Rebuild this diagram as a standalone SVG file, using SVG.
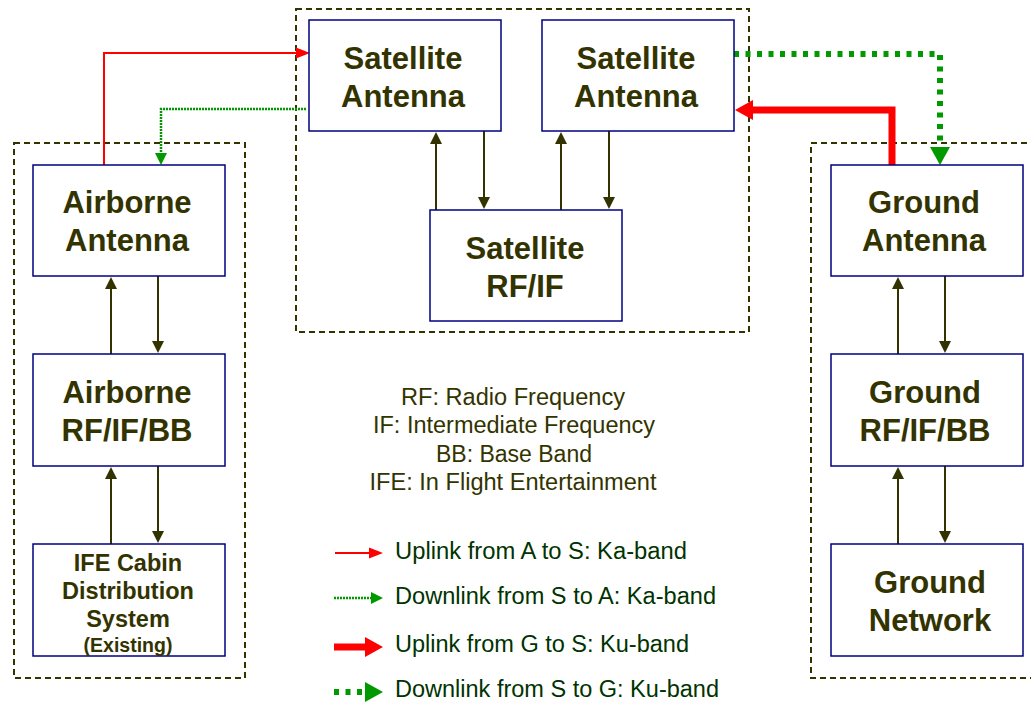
<svg xmlns="http://www.w3.org/2000/svg" width="1031" height="703" viewBox="0 0 1031 703">
<style>
.grp{fill:none;stroke:#333300;stroke-width:2;stroke-dasharray:6 4}
.box{fill:#fff;stroke:#000080;stroke-width:1.5}
.nt{font-family:"Liberation Sans",Arial,sans-serif;font-weight:bold;font-size:31px;fill:#333300;text-anchor:middle}
.st{font-family:"Liberation Sans",Arial,sans-serif;font-weight:bold;font-size:23.5px;fill:#333300;text-anchor:middle}
.xt{font-family:"Liberation Sans",Arial,sans-serif;font-weight:bold;font-size:19.5px;fill:#333300;text-anchor:middle}
.abbr{font-family:"Liberation Sans",Arial,sans-serif;font-size:23px;fill:#333300;text-anchor:middle}
.leg{font-family:"Liberation Sans",Arial,sans-serif;font-size:23px;fill:#003300}
.ol{fill:none;stroke:#333300;stroke-width:2;marker-end:url(#ah)}
.rt{fill:none;stroke:#ff0000;stroke-width:2;marker-end:url(#rThin)}
.gt{fill:none;stroke:#009900;stroke-width:2.5;stroke-dasharray:2 1;marker-end:url(#gThin)}
.rk{fill:none;stroke:#ff0000;stroke-width:7;marker-end:url(#rThick)}
.gk{fill:none;stroke:#009900;stroke-width:6;stroke-dasharray:5 6.5;marker-end:url(#gThick)}
</style>
<defs>
<marker id="ah" markerUnits="userSpaceOnUse" markerWidth="13" markerHeight="12" refX="1" refY="6" orient="auto" overflow="visible"><path d="M0,0 L12,6 L0,12 z" fill="#333300"/></marker>
<marker id="rThin" markerUnits="userSpaceOnUse" markerWidth="15" markerHeight="11" refX="1" refY="5.5" orient="auto" overflow="visible"><path d="M0,0 L14,5.5 L0,11 z" fill="#ff0000"/></marker>
<marker id="gThin" markerUnits="userSpaceOnUse" markerWidth="13" markerHeight="12" refX="1" refY="6" orient="auto" overflow="visible"><path d="M0,0 L12,6 L0,12 z" fill="#009900"/></marker>
<marker id="rThick" markerUnits="userSpaceOnUse" markerWidth="19" markerHeight="20" refX="1" refY="10" orient="auto" overflow="visible"><path d="M0,0 L18,10 L0,20 z" fill="#ff0000"/></marker>
<marker id="gThick" markerUnits="userSpaceOnUse" markerWidth="19" markerHeight="20" refX="1" refY="10" orient="auto" overflow="visible"><path d="M0,0 L18,10 L0,20 z" fill="#009900"/></marker>
</defs>
<rect width="1031" height="703" fill="#fff"/>

<g id="groups">
<rect class="grp" x="14" y="143" width="231" height="535"/>
<rect class="grp" x="296" y="9" width="453" height="323"/>
<rect class="grp" x="811" y="143" width="240" height="535"/>
</g>

<g id="connectors">
<path class="ol" d="M111,354 V288"/>
<path class="ol" d="M158,276 V342"/>
<path class="ol" d="M111,544 V478"/>
<path class="ol" d="M158,466 V532"/>
<path class="ol" d="M436,210 V143"/>
<path class="ol" d="M484,131 V198"/>
<path class="ol" d="M561,210 V143"/>
<path class="ol" d="M609,131 V198"/>
<path class="ol" d="M898,354 V288"/>
<path class="ol" d="M945,276 V342"/>
<path class="ol" d="M898,544 V478"/>
<path class="ol" d="M945,466 V532"/>
<path class="rt" d="M104,165 V53 H297"/>
<path class="gt" d="M306,109 H161 V154"/>
<path class="rk" d="M892,165 V110 H752"/>
<path class="gk" d="M734,54 H940 V148"/>
</g>

<g id="airborne-antenna">
<rect class="box" x="33" y="165" width="192" height="111"/>
<text class="nt" x="127" y="213">Airborne</text>
<text class="nt" x="127" y="251">Antenna</text>
</g>
<g id="airborne-rf">
<rect class="box" x="33" y="354" width="192" height="112"/>
<text class="nt" x="127" y="403">Airborne</text>
<text class="nt" x="127" y="441">RF/IF/BB</text>
</g>
<g id="ife">
<rect class="box" x="33" y="544" width="192" height="112"/>
<text class="st" x="128" y="571">IFE Cabin</text>
<text class="st" x="128" y="599">Distribution</text>
<text class="st" x="128" y="627">System</text>
<text class="xt" x="128" y="652">(Existing)</text>
</g>
<g id="sat-antenna-1">
<rect class="box" x="309" y="20" width="192" height="111"/>
<text class="nt" x="403" y="69">Satellite</text>
<text class="nt" x="403" y="107">Antenna</text>
</g>
<g id="sat-antenna-2">
<rect class="box" x="542" y="20" width="192" height="111"/>
<text class="nt" x="636" y="69">Satellite</text>
<text class="nt" x="636" y="107">Antenna</text>
</g>
<g id="sat-rf">
<rect class="box" x="430" y="210" width="192" height="111"/>
<text class="nt" x="525" y="259">Satellite</text>
<text class="nt" x="525" y="297">RF/IF</text>
</g>
<g id="ground-antenna">
<rect class="box" x="831" y="165" width="192" height="111"/>
<text class="nt" x="924" y="213">Ground</text>
<text class="nt" x="924" y="251">Antenna</text>
</g>
<g id="ground-rf">
<rect class="box" x="831" y="354" width="192" height="112"/>
<text class="nt" x="925" y="403">Ground</text>
<text class="nt" x="925" y="441">RF/IF/BB</text>
</g>
<g id="ground-network">
<rect class="box" x="831" y="544" width="192" height="112"/>
<text class="nt" x="930" y="593">Ground</text>
<text class="nt" x="930" y="631">Network</text>
</g>

<g id="abbreviations">
<text class="abbr" x="513" y="405" textLength="224" lengthAdjust="spacingAndGlyphs">RF: Radio Frequency</text>
<text class="abbr" x="514" y="433" textLength="282" lengthAdjust="spacingAndGlyphs">IF: Intermediate Frequency</text>
<text class="abbr" x="514" y="462">BB: Base Band</text>
<text class="abbr" x="513" y="490" textLength="287" lengthAdjust="spacingAndGlyphs">IFE: In Flight Entertainment</text>
</g>

<g id="legend">
<path class="rt" d="M335,553 H370"/>
<text class="leg" x="395" y="559" textLength="292" lengthAdjust="spacingAndGlyphs">Uplink from A to S: Ka-band</text>
<path class="gt" d="M334,598 H372"/>
<text class="leg" x="395" y="604" textLength="321" lengthAdjust="spacingAndGlyphs">Downlink from S to A: Ka-band</text>
<path class="rk" d="M334,647 H366"/>
<text class="leg" x="395" y="652" textLength="294" lengthAdjust="spacingAndGlyphs">Uplink from G to S: Ku-band</text>
<path class="gk" d="M334,692 H366"/>
<text class="leg" x="395" y="697" textLength="324" lengthAdjust="spacingAndGlyphs">Downlink from S to G: Ku-band</text>
</g>
</svg>
